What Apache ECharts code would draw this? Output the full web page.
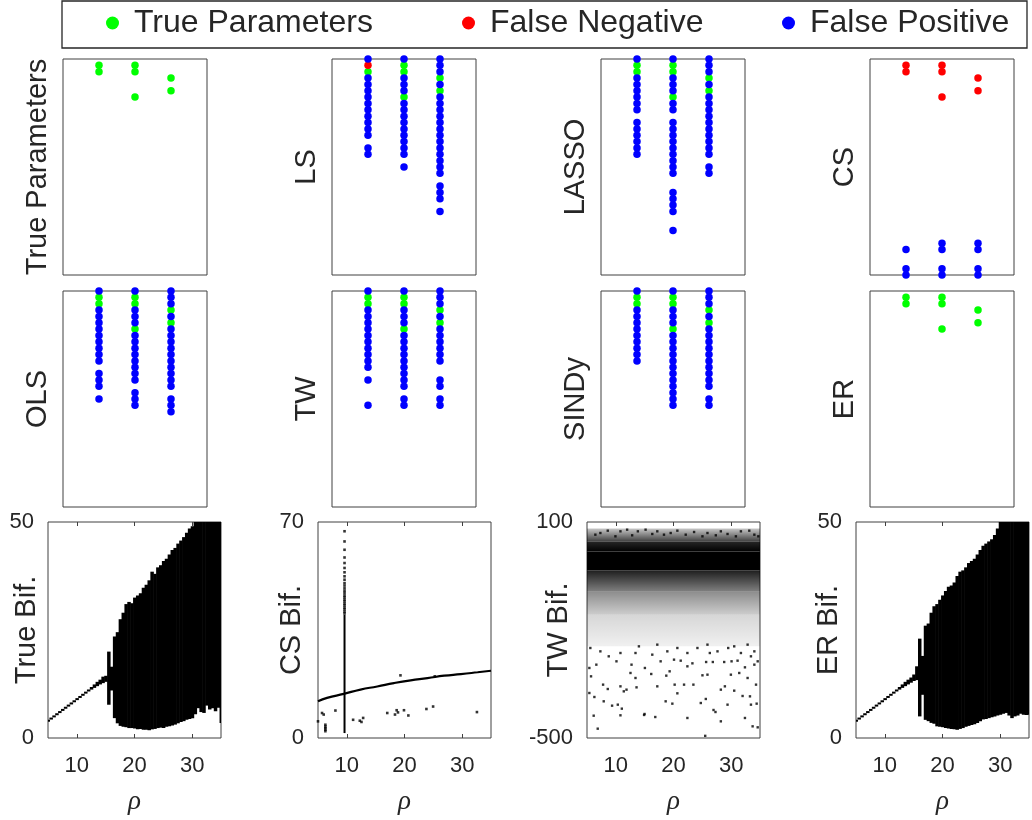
<!DOCTYPE html>
<html><head><meta charset="utf-8">
<script src="https://cdn.jsdelivr.net/npm/echarts@6/dist/echarts.min.js"></script>
<style>html,body{margin:0;padding:0;background:#fff}#c{width:1032px;height:820px}</style>
</head><body><div id="c"></div>
<script>
// ---------- DATA ----------
const legendNames = ['True Parameters', 'False Negative', 'False Positive'];
const panelNames = ['True Parameters', 'LS', 'LASSO', 'CS', 'OLS', 'TW', 'SINDy', 'ER'];
const equationCols = [1, 2, 3];          // x, y, z equations
// library term indices (1..35) per equation column
const TRUE_tp = [[2,3],[2,3,7],[4,6]];
const TRUE_fn = [[],[],[]];
const TRUE_fp = [[],[],[]];
const LS_tp = [[3],[2,3,7],[4,6]];
const LS_fn = [[2],[],[]];
const LS_fp = [[1,4,5,6,7,8,9,10,11,12,13,15,16],
               [1,4,5,6,8,9,10,11,12,13,14,15,16,18],
               [1,2,3,5,7,8,9,10,11,12,13,14,15,16,17,18,19,21,22,23,25]];
const LASSO_tp = [[2,3],[2,3,7],[4,6]];
const LASSO_fn = [[],[],[]];
const LASSO_fp = [[1,4,5,6,7,8,9,11,12,13,14,15,16],
                  [1,4,5,6,8,9,11,12,13,14,15,16,17,18,19,22,23,24,25,28],
                  [1,2,3,5,7,8,9,10,11,12,13,14,15,16,18,19]];
const CS_tp = [[],[],[]];
const CS_fn = [[2,3],[2,3,7],[4,6]];
const CS_fp = [[31,34,35],[30,31,34,35],[30,31,34,35]];
const OLS_tp = [[2,3],[2,3,7],[4,6]];
const OLS_fn = [[],[],[]];
const OLS_fp = [[1,4,5,6,7,8,9,10,11,12,14,15,16,18],
                [1,4,5,6,8,9,10,11,12,13,14,15,17,18,19],
                [1,2,3,5,7,8,9,10,11,12,13,14,15,16,18,19,20]];
const TW_tp = [[2,3],[2,3,7],[4,6]];
const TW_fn = [[],[],[]];
const TW_fp = [[1,4,5,6,7,8,9,10,11,12,13,15,19],
               [1,4,5,6,8,9,10,11,12,13,14,15,16,18,19],
               [1,2,3,5,7,8,9,10,11,12,15,16,18,19]];
const SINDY_tp = [[2,3],[2,3,7],[4,6]];
const SINDY_fn = [[],[],[]];
const SINDY_fp = [[1,4,5,6,7,8,9,10,11,12],
                  [1,4,5,6,8,9,10,11,12,13,14,15,16,17,18,19],
                  [1,2,3,5,7,8,9,10,11,12,13,14,15,16,18,19]];
const ER_tp = [[2,3],[2,3,7],[4,6]];
const ER_fn = [[],[],[]];
const ER_fp = [[],[],[]];

// bifurcation diagrams: rho samples and envelope of z values
const bifRho = [5,5.5,6,6.5,7,7.5,8,8.5,9,9.5,10,10.5,11,11.5,12,12.5,13,13.5,14,14.5,
  15,15.5,16,16.5,17,17.5,18,18.5,19,19.5,20,20.5,21,21.5,22,22.5,23,23.5,24,24.5,
  25,25.5,26,26.5,27,27.5,28,28.5,29,29.5,30,30.5,31,31.5,32,32.5,33,33.5,34,34.5,35];
const trueBifLo = [3.8,4.3,4.8,5.3,5.8,6.3,6.8,7.3,7.8,8.3,8.8,9.3,9.8,10.3,10.8,11.2,11.6,12.0,12.4,12.7,
  13.0,7.7,11.0,4.6,3.4,2.8,2.6,2.5,2.3,2.3,2.2,2.0,2.1,1.9,1.9,1.8,2.0,2.1,2.3,2.4,
  2.3,2.6,2.7,2.9,3.1,3.4,3.7,3.9,4.2,4.4,4.6,5.5,6.9,6.0,5.8,7.5,6.6,6.9,6.2,7.0,3.5];
const trueBifHi = [4.2,4.7,5.2,5.7,6.2,6.7,7.2,7.7,8.2,8.7,9.2,9.7,10.2,10.7,11.2,11.8,12.4,13.0,13.5,14.2,
  14.4,20.0,16.5,23.5,24.5,27.5,29.0,31.0,31.5,31.2,32.5,33.0,33.5,34.8,35.5,36.5,38.5,38.0,39.5,40.0,
  41.0,41.5,42.5,43.5,44.0,45.0,45.7,46.5,47.5,48.5,49.0,50,50,50,50,50,50,50,50,50,50];
const erBifLo = [3.8,4.3,4.8,5.3,5.8,6.3,6.8,7.3,7.8,8.3,8.8,9.3,9.8,10.3,10.8,11.2,11.6,12.0,12.4,12.8,
  13.2,13.4,5.0,10.0,4.2,3.9,3.5,3.3,2.7,2.6,2.5,2.3,2.2,2.1,2.0,1.9,2.1,2.3,2.6,2.8,
  3.0,3.2,3.5,3.9,4.3,4.4,4.6,4.8,5.0,5.2,5.4,5.6,5.8,5.2,4.6,5.0,5.2,5.6,5.4,5.3,5.4];
const erBifHi = [4.2,4.7,5.2,5.7,6.2,6.7,7.2,7.7,8.2,8.7,9.2,9.7,10.2,10.7,11.2,11.8,12.4,13.0,13.5,14.0,
  14.7,16.6,23.0,19.0,26.0,26.5,29.0,30.5,31.0,32.0,33.0,34.0,35.0,35.3,36.0,37.5,38.5,38.8,39.5,40.5,
  41.0,41.5,42.5,43.5,44.5,45.0,45.5,46.0,47.0,48.5,50,50,50,50,50,50,50,50,50,50,50];
// CS identified model bifurcation
const csCurveRho = [5,6.57,9.47,12.37,15.27,18.17,21.07,23.98,26.88,29.78,32.68,35];
const csCurveVal = [11.9,13.0,14.3,15.7,16.7,17.8,18.7,19.4,20.2,20.7,21.3,21.8];
const csStem = [[9.6, 1.6, 40]];   // [rho, low, high]
const csDots = [[5.0,5.4],[5.70,8.1],[5.99,7.6],[6.28,4.3],[6.28,3.7],[6.28,3.2],[6.28,2.7],[6.28,2.2],
  [8.02,8.9],[11.09,5.9],[12.25,5.6],[12.54,5.2],[12.83,6.5],[17.01,8.1],[18.35,7.6],[18.64,9.0],
  [18.87,8.3],[19.91,9.0],[20.67,7.3],[23.80,9.4],[24.96,10.2],[32.56,8.4],[19.3,20.3],[25.25,20.0],
  [9.6,67],[9.6,63.7],[9.6,61],[9.6,58.5],[9.6,56.7],[9.6,55.1],[9.6,53.7],[9.6,52.4],[9.6,51.3],
  [9.6,50.2],[9.6,49.4],[9.6,48.5],[9.6,47.7],[9.6,47.0],[9.6,46.2],[9.6,45.6],[9.6,44.9],[9.6,44.3],
  [9.6,43.6],[9.6,43.0],[9.6,42.3],[9.6,41.7],[9.6,41.0],[9.6,40.4]];
// TW identified model bifurcation: density layers (low, high) and sparse points
const twLayerLo = [-245, -157, -93, -35, 18, 46];
const twLayerHi = [-157, -93, -35, 18, 46, 82];
const twDots = [[6.86,-474.1],[6.16,-438.0],[9.35,-410.2],[10.34,-407.4],[11.04,-418.5],[10.80,-437.0],
  [14.98,-433.3],[14.9,-436],[16.84,-441.7],[18.64,-398.1],[19.80,-404.6],[24.73,-402.8],[26.94,-422.2],
  [27.28,-427.8],[28.21,-453.7],[29.37,-407.4],[31.98,-383.3],[32.39,-444.4],[33.72,-467.6],[34.60,-470.4],
  [33.43,-407.4],[34.42,-404.6],[5.41,-375.0],[5.41,-305.5],[5.70,-328.7],[7.79,-351.8],[8.60,-363.9],
  [10.80,-356.5],[11.85,-365.7],[12.54,-319.4],[13.41,-333.3],[13.59,-359.3],[15.04,-305.5],[16.14,-322.2],
  [17.19,-356.5],[18.75,-326.8],[19.33,-314.8],[20.20,-351.8],[21.83,-351.8],[22.41,-300.9],[23.45,-351.8],
  [25.02,-325.9],[25.89,-324.1],[26.82,-288.9],[28.21,-365.7],[28.91,-356.5],[29.95,-324.1],[31.40,-319.4],
  [32.39,-303.7],[32.85,-333.3],[34.02,-296.3],[34.31,-351.8],[6.28,-386.1],[11.38,-370.4],[20.67,-375.9],
  [25.60,-391.6],[30.53,-368.5],[33.26,-384.3],[22.41,-444.4],[7.90,-398.1],[6.62,-296.3],[10.11,-287.0],
  [12.72,-296.3],[17.77,-287.0],[20.09,-282.4],[21.25,-285.2],[23.28,-292.6],[25.66,-288.9],[28.79,-288.9],
  [30.07,-287.0],[31.11,-285.2],[33.43,-273.1],[34.60,-287.0],[8.77,-273.1],[7.32,-259.3],[10.80,-263.9],
  [13.41,-263.9],[16.32,-268.5],[18.93,-259.3],[20.67,-250.0],[22.41,-263.9],[24.15,-250.0],[26.30,-263.9],
  [27.63,-259.3],[29.49,-250.0],[31.69,-263.9],[34.02,-259.3],[5.58,-250.0],[14.00,-245.4],[17.19,-240.7],
  [25.89,-240.7],[30.53,-245.4],[32.85,-240.7],[25.5,-494],
  [6.45,64.8],[7.32,69.4],[8.60,75.9],[9.93,60.2],[10.80,74.1],[11.96,78.7],[12.83,63.0],[13.82,74.1],
  [15.16,78.7],[16.32,66.7],[17.19,74.1],[18.35,64.8],[19.51,69.4],[20.67,75.9],[22.12,64.8],[23.57,72.2],
  [25.02,60.2],[25.89,69.4],[27.34,63.0],[28.21,74.1],[29.37,66.7],[30.82,60.2],[31.69,74.1],[33.14,75.9],
  [34.02,64.8],[34.71,60.2]];
const bifNames = ['True Bif.', 'CS Bif.', 'TW Bif.', 'ER Bif.'];
const rhoTicks = [10, 20, 30];
const bifYMin = [0, 0, -500, 0];
const bifYMax = [50, 70, 100, 50];

// ---------- LAYOUT / STYLE ----------
const FONT = "'Liberation Sans', Helvetica, Arial, sans-serif";
const TXT = '#262626';
const BOX = '#404040';
const COLORS = {'True Parameters': '#00ff00', 'False Negative': '#ff0000', 'False Positive': '#0000ff'};
const topLefts = [63, 332, 601, 870], topTops = [59, 291];
const botLefts = [48, 318, 587, 856], botTop = 522;
const topW = 144, botW = 173, H = 216;
const yNameGapTop = 11;
const yNameGapBot = [7, 12, 14, 13];

const panelData = [
  [TRUE_tp, TRUE_fn, TRUE_fp], [LS_tp, LS_fn, LS_fp], [LASSO_tp, LASSO_fn, LASSO_fp], [CS_tp, CS_fn, CS_fp],
  [OLS_tp, OLS_fn, OLS_fp], [TW_tp, TW_fn, TW_fp], [SINDY_tp, SINDY_fn, SINDY_fp], [ER_tp, ER_fn, ER_fp]
];

const grid = [], xAxis = [], yAxis = [], series = [];

function toPoints(cols) {
  const pts = [];
  cols.forEach((rows, ci) => rows.forEach(r => pts.push([equationCols[ci], r])));
  return pts;
}

panelNames.forEach((name, i) => {
  const r = Math.floor(i / 4), c = i % 4;
  grid.push({left: topLefts[c], top: topTops[r], width: topW, height: H, show: true,
    containLabel: false, outerBoundsMode: 'none',
    borderColor: BOX, borderWidth: 1, backgroundColor: 'transparent'});
  xAxis.push({gridIndex: i, type: 'value', min: 0, max: 4, show: false});
  yAxis.push({gridIndex: i, type: 'value', min: 1, max: 35, inverse: true,
    name: name, nameLocation: 'middle', nameGap: yNameGapTop, nameMoveOverlap: false,
    nameTextStyle: {fontFamily: FONT, fontSize: 29, color: TXT},
    axisLine: {show: false}, axisTick: {show: false}, axisLabel: {show: false}, splitLine: {show: false}});
  panelData[i].forEach((cols, k) => {
    series.push({type: 'scatter', name: legendNames[k], xAxisIndex: i, yAxisIndex: i,
      data: toPoints(cols), symbol: 'circle', symbolSize: 7.5, clip: false, silent: true,
      itemStyle: {color: COLORS[legendNames[k]], opacity: 1}});
  });
});

function bandRender(step, minH) {
  return function (params, api) {
    const x = api.value(0), lo = api.value(1), hi = api.value(2);
    const p1 = api.coord([x - step / 2, hi]);
    const p2 = api.coord([x + step / 2, lo]);
    let y = p1[1], h = p2[1] - p1[1];
    if (h < minH) { y -= (minH - h) / 2; h = minH; }
    return {type: 'rect', shape: {x: p1[0], y: y, width: p2[0] - p1[0] + 0.6, height: h},
      style: {fill: '#000'}};
  };
}
function stemRender(params, api) {
  const x = api.value(0);
  const p1 = api.coord([x, api.value(2)]);
  const p2 = api.coord([x, api.value(1)]);
  return {type: 'rect', shape: {x: p1[0] - 1, y: p1[1], width: 2, height: p2[1] - p1[1]}, style: {fill: '#000'}};
}
const twAlpha = [[0.16, 0.06], [0.45, 0.2], [0.88, 0.5], [1, 1], [0.85, 1], [0.22, 0.75]];
function twRender(params, api) {
  const lo = api.value(0), hi = api.value(1);
  const p1 = api.coord([5, hi]);
  const p2 = api.coord([35, lo]);
  const a = twAlpha[params.dataIndex];
  return {type: 'rect', shape: {x: p1[0], y: p1[1], width: p2[0] - p1[0], height: p2[1] - p1[1]},
    style: {fill: new echarts.graphic.LinearGradient(0, 0, 0, 1, [
      {offset: 0, color: 'rgba(0,0,0,' + a[0] + ')'}, {offset: 1, color: 'rgba(0,0,0,' + a[1] + ')'}])}};
}

const step = bifRho[1] - bifRho[0];
bifNames.forEach((name, j) => {
  const gi = 8 + j;
  grid.push({left: botLefts[j], top: botTop, width: botW, height: H, show: true,
    containLabel: false, outerBoundsMode: 'none',
    borderColor: BOX, borderWidth: 1, backgroundColor: 'transparent'});
  xAxis.push({gridIndex: gi, type: 'value', min: 5, max: 35,
    name: 'ρ', nameLocation: 'middle', nameGap: 50, nameMoveOverlap: false,
    nameTextStyle: {fontFamily: "'Liberation Serif', 'Times New Roman', serif", fontStyle: 'italic', fontSize: 27, color: TXT},
    axisLine: {show: false}, splitLine: {show: false},
    axisTick: {show: true, inside: true, length: 4, customValues: rhoTicks, lineStyle: {color: BOX}},
    axisLabel: {show: true, customValues: rhoTicks, fontFamily: FONT, fontSize: 22, color: TXT, margin: 17}});
  yAxis.push({gridIndex: gi, type: 'value', min: bifYMin[j], max: bifYMax[j],
    name: name, nameLocation: 'middle', nameGap: yNameGapBot[j], nameMoveOverlap: false,
    nameTextStyle: {fontFamily: FONT, fontSize: 29, color: TXT},
    axisLine: {show: false}, splitLine: {show: false},
    axisTick: {show: false, customValues: [bifYMin[j], bifYMax[j]]},
    axisLabel: {show: true, customValues: [bifYMin[j], bifYMax[j]], fontFamily: FONT, fontSize: 22, color: TXT, margin: 14}});
});
// mirrored top ticks for the bottom row
bifNames.forEach((name, j) => {
  xAxis.push({gridIndex: 8 + j, type: 'value', min: 5, max: 35, position: 'top',
    axisLine: {show: false}, splitLine: {show: false}, axisLabel: {show: false},
    axisTick: {show: true, inside: true, length: 4, customValues: rhoTicks, lineStyle: {color: BOX}}});
});

function bifSeries(gi, lo, hi) {
  return {type: 'custom', xAxisIndex: gi, yAxisIndex: gi, clip: true, silent: true,
    renderItem: bandRender(step, 2),
    data: bifRho.map((r, k) => [r, lo[k], hi[k]])};
}
series.push(bifSeries(8, trueBifLo, trueBifHi));
series.push(bifSeries(11, erBifLo, erBifHi));
// CS
series.push({type: 'line', xAxisIndex: 9, yAxisIndex: 9, data: csCurveRho.map((r, k) => [r, csCurveVal[k]]),
  showSymbol: false, symbol: 'none', smooth: true, lineStyle: {color: '#000', width: 2.2}, silent: true});
series.push({type: 'custom', xAxisIndex: 9, yAxisIndex: 9, clip: true, silent: true, renderItem: stemRender, data: csStem});
series.push({type: 'scatter', xAxisIndex: 9, yAxisIndex: 9, data: csDots, symbol: 'rect', symbolSize: 2.6,
  itemStyle: {color: '#000'}, silent: true});
// TW
series.push({type: 'custom', xAxisIndex: 10, yAxisIndex: 10, clip: true, silent: true, renderItem: twRender,
  data: twLayerLo.map((lo, k) => [lo, twLayerHi[k]])});
series.push({type: 'scatter', xAxisIndex: 10, yAxisIndex: 10, data: twDots, symbol: 'rect', symbolSize: 2.4,
  itemStyle: {color: '#000'}, silent: true});

const legendLefts = [106, 462, 782];
const legend = legendNames.map((n, k) => ({
  data: [n], left: legendLefts[k], top: 7, icon: 'circle', itemWidth: 13, itemHeight: 13,
  selectedMode: false, padding: 0,
  textStyle: {fontFamily: FONT, fontSize: 32, color: TXT, padding: [0, 0, 0, 10]}
}));

const chart = echarts.init(document.getElementById('c'), null, {renderer: 'canvas'});
chart.setOption({
  animation: false,
  backgroundColor: '#fff',
  grid, xAxis, yAxis, series, legend,
  graphic: [{type: 'rect', shape: {x: 62, y: 1, width: 965, height: 47},
    style: {fill: 'none', stroke: '#262626', lineWidth: 1.3}, silent: true}]
});
</script></body></html>
